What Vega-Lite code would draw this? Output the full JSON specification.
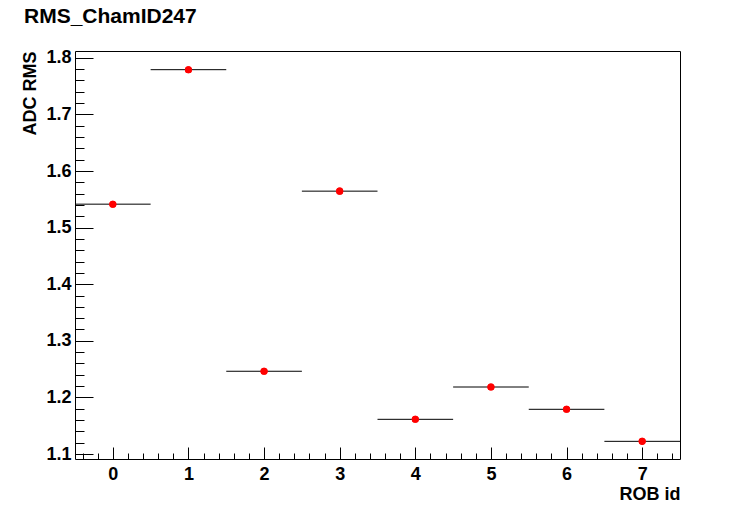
{
  "$schema": "https://vega.github.io/schema/vega-lite/v6.json",
  "width": 605,
  "height": 408,
  "autosize": {"type": "none"},
  "padding": {"left": 75, "top": 51, "right": 76, "bottom": 52},
  "background": "white",
  "config": {
    "view": {"stroke": "black", "strokeWidth": 1},
    "font": "Liberation Sans"
  },
  "title": {
    "text": "RMS_ChamID247",
    "anchor": "start",
    "frame": "group",
    "font": "Liberation Sans",
    "fontSize": 21,
    "fontWeight": "bold",
    "color": "black",
    "dx": -51,
    "dy": 22,
    "offset": 27,
    "baseline": "alphabetic"
  },
  "data": {
    "values": [
      {"rob": 0, "lo": -0.5, "hi": 0.5, "rms": 1.5414},
      {"rob": 1, "lo": 0.5, "hi": 1.5, "rms": 1.779},
      {"rob": 2, "lo": 1.5, "hi": 2.5, "rms": 1.2462},
      {"rob": 3, "lo": 2.5, "hi": 3.5, "rms": 1.5644},
      {"rob": 4, "lo": 3.5, "hi": 4.5, "rms": 1.1613},
      {"rob": 5, "lo": 4.5, "hi": 5.5, "rms": 1.2184},
      {"rob": 6, "lo": 5.5, "hi": 6.5, "rms": 1.179},
      {"rob": 7, "lo": 6.5, "hi": 7.5, "rms": 1.1224}
    ]
  },
  "layer": [
    {
      "mark": {"type": "rule", "color": "black", "strokeWidth": 1},
      "encoding": {
        "x": {
          "field": "lo", "type": "quantitative",
          "scale": {"domain": [-0.5, 7.5], "nice": false, "zero": false},
          "axis": {
            "orient": "bottom", "values": [0, 1, 2, 3, 4, 5, 6, 7], "format": "d",
            "ticks": false, "domain": false, "grid": false,
            "labelFont": "Liberation Sans", "labelFontSize": 18, "labelFontWeight": "bold", "labelColor": "black",
            "labelPadding": 6, "labelOverlap": false, "labelFlush": false,
            "title": "ROB id", "titleFont": "Liberation Sans", "titleFontSize": 18, "titleFontWeight": "bold", "titleColor": "black",
            "titleX": 605, "titleY": 40, "titleAlign": "right", "titleBaseline": "alphabetic", "titleAnchor": null
          }
        },
        "x2": {"field": "hi"},
        "y": {
          "field": "rms", "type": "quantitative",
          "scale": {"domain": [1.0912, 1.812], "nice": false, "zero": false},
          "axis": {
            "orient": "left", "values": [1.1, 1.2, 1.3, 1.4, 1.5, 1.6, 1.7, 1.8], "format": ".1f",
            "ticks": false, "domain": false, "grid": false,
            "labelFont": "Liberation Sans", "labelFontSize": 18, "labelFontWeight": "bold", "labelColor": "black",
            "labelPadding": 4, "labelOverlap": false, "labelFlush": false,
            "title": "ADC RMS", "titleFont": "Liberation Sans", "titleFontSize": 18, "titleFontWeight": "bold", "titleColor": "black",
            "titleX": -40, "titleY": 0, "titleAngle": -90, "titleAlign": "right", "titleBaseline": "alphabetic", "titleAnchor": null
          }
        }
      }
    },
    {
      "mark": {"type": "point", "filled": true, "color": "red", "opacity": 1, "size": 50},
      "encoding": {
        "x": {
          "field": "rob", "type": "quantitative",
          "axis": {
            "orient": "bottom", "values": [0, 1, 2, 3, 4, 5, 6, 7],
            "labels": false, "domain": false, "grid": false, "title": null,
            "ticks": true, "tickSize": -12, "tickColor": "black", "tickWidth": 1
          }
        },
        "y": {
          "field": "rms", "type": "quantitative",
          "axis": {
            "orient": "left", "values": [1.1, 1.2, 1.3, 1.4, 1.5, 1.6, 1.7, 1.8],
            "labels": false, "domain": false, "grid": false, "title": null,
            "ticks": true, "tickSize": -18, "tickColor": "black", "tickWidth": 1
          }
        }
      }
    },
    {
      "mark": {"type": "point", "filled": true, "color": "red", "opacity": 1, "size": 50},
      "encoding": {
        "x": {
          "field": "rob", "type": "quantitative",
          "axis": {
            "orient": "bottom",
            "values": [-0.4, -0.2, 0, 0.2, 0.4, 0.6, 0.8, 1, 1.2, 1.4, 1.6, 1.8, 2, 2.2, 2.4, 2.6, 2.8, 3, 3.2, 3.4, 3.6, 3.8, 4, 4.2, 4.4, 4.6, 4.8, 5, 5.2, 5.4, 5.6, 5.8, 6, 6.2, 6.4, 6.6, 6.8, 7, 7.2, 7.4],
            "labels": false, "domain": false, "grid": false, "title": null,
            "ticks": true, "tickSize": -6, "tickColor": "black", "tickWidth": 1
          }
        },
        "y": {
          "field": "rms", "type": "quantitative",
          "axis": {
            "orient": "left",
            "values": [1.1, 1.12, 1.14, 1.16, 1.18, 1.2, 1.22, 1.24, 1.26, 1.28, 1.3, 1.32, 1.34, 1.36, 1.38, 1.4, 1.42, 1.44, 1.46, 1.48, 1.5, 1.52, 1.54, 1.56, 1.58, 1.6, 1.62, 1.64, 1.66, 1.68, 1.7, 1.72, 1.74, 1.76, 1.78, 1.8],
            "labels": false, "domain": false, "grid": false, "title": null,
            "ticks": true, "tickSize": -9, "tickColor": "black", "tickWidth": 1
          }
        }
      }
    }
  ],
  "resolve": {"axis": {"x": "independent", "y": "independent"}}
}
